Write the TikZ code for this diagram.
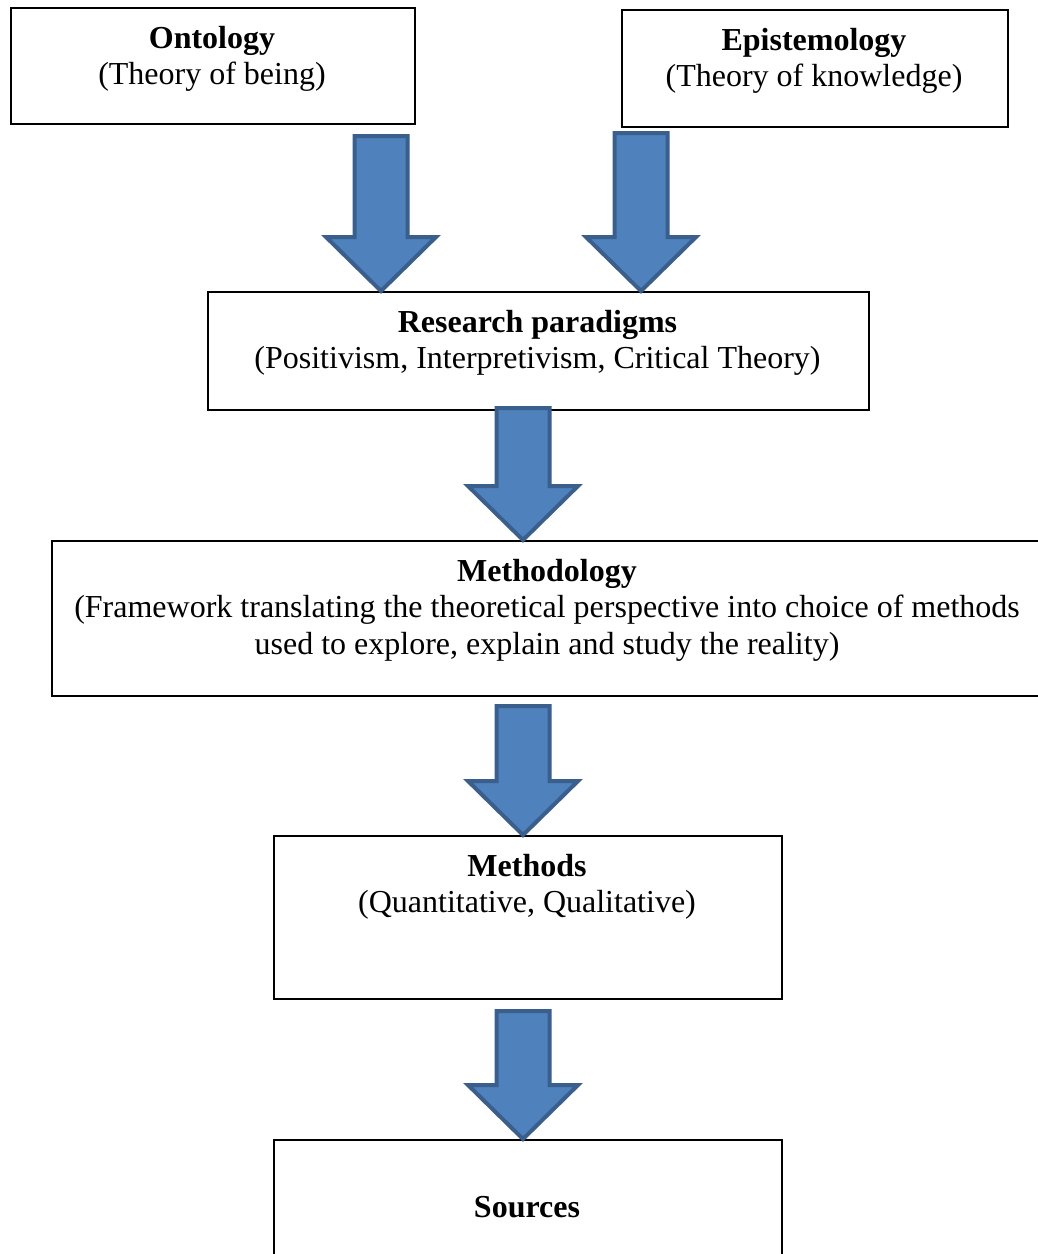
\documentclass[tikz,border=0pt]{standalone}
\usepackage{fontspec}
\setmainfont{Liberation Serif}
\usetikzlibrary{calc}
\definecolor{afill}{HTML}{4F81BD}
\definecolor{aline}{HTML}{3A5F8C}
\newcommand\bigarrow[2]{%
  \draw[barrow] let \p1=(#1), \p2=(#2) in
    (\x1-26.5pt,\y1) -- (\x1+26.5pt,\y1) -- (\x1+26.5pt,\y2+54pt) -- (\x1+55pt,\y2+54pt)
    -- (\x1,\y2) -- (\x1-55pt,\y2+54pt) -- (\x1-26.5pt,\y2+54pt) -- cycle;}
\begin{document}
\begin{tikzpicture}[x=1pt,y=-1pt,
  box/.style={draw=black,line width=2pt,fill=white,inner sep=0pt,anchor=north west},
  ttl/.style={font=\fontsize{32}{36.5}\selectfont\bfseries,anchor=base,inner sep=0pt},
  sub/.style={font=\fontsize{32}{36.5}\selectfont,anchor=base,inner sep=0pt},
  barrow/.style={fill=afill,draw=aline,line width=4pt,line join=miter}]
\useasboundingbox (0,0) rectangle (1038,1254);
\clip (0,0) rectangle (1038,1254);
\fill[white] (0,0) rectangle (1038,1254);
% boxes
\node[box,minimum width=404pt,minimum height=116pt] (ont) at (10,7) {};
\node[box,minimum width=386pt,minimum height=117pt] (epi) at (621,9) {};
\node[box,minimum width=661pt,minimum height=118pt] (rp) at (207,291) {};
\node[box,minimum width=992pt,minimum height=155pt] (md) at (51,540) {};
\node[box,minimum width=508pt,minimum height=163pt] (mt) at (273,835) {};
\node[box,minimum width=508pt,minimum height=200pt] (src) at (273,1139) {};
% texts
\node[ttl] (ont1) at (212,48) {Ontology};
\node[sub] (ont2) at (212,84.5) {(Theory of being)};
\node[ttl] (epi1) at (814,50) {Epistemology};
\node[sub] (epi2) at (814,86.5) {(Theory of knowledge)};
\node[ttl] (rp1) at (537.5,332) {Research paradigms};
\node[sub] (rp2) at (537.5,368.5) {(Positivism, Interpretivism, Critical Theory)};
\node[ttl] (md1) at (547,581) {Methodology};
\node[sub] (md2) at (547,617.5) {(Framework translating the theoretical perspective into choice of methods};
\node[sub] (md3) at (547,654) {used to explore, explain and study the reality)};
\node[ttl] (mt1) at (527,876) {Methods};
\node[sub] (mt2) at (527,912.5) {(Quantitative, Qualitative)};
\node[ttl] (src1) at (527,1217) {Sources};
% arrows
\coordinate (a1) at (381,136);
\coordinate (a2) at (641,133);
\coordinate (a3) at (523,408);
\coordinate (a4) at (523,706);
\coordinate (a5) at (523,1011);
\bigarrow{a1}{a1 |- rp.north}
\bigarrow{a2}{a2 |- rp.north}
\bigarrow{a3}{a3 |- md.north}
\bigarrow{a4}{a4 |- mt.north}
\bigarrow{a5}{a5 |- src.north}
\end{tikzpicture}
\end{document}
